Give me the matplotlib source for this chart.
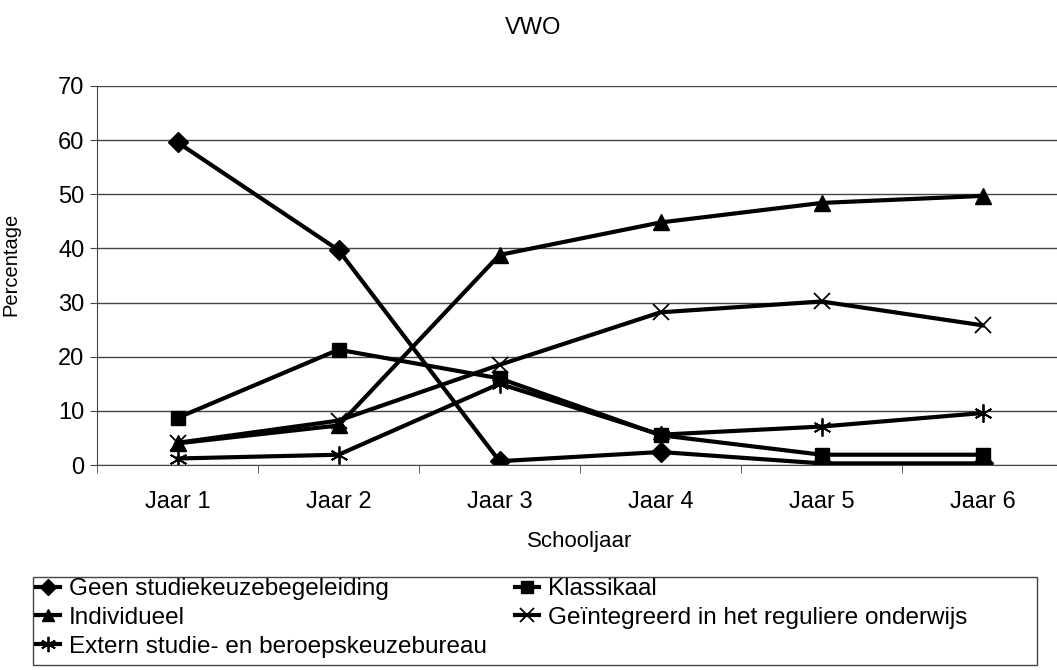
import matplotlib.pyplot as plt
from matplotlib.patches import Rectangle
import numpy as np

# data
jaren = ['Jaar 1', 'Jaar 2', 'Jaar 3', 'Jaar 4', 'Jaar 5', 'Jaar 6']
geen = [59.6, 39.7, 0.7, 2.4, 0.3, 0.3]
klassikaal = [8.7, 21.3, 16.0, 5.5, 1.9, 1.9]
individueel = [4.0, 7.3, 38.8, 44.8, 48.4, 49.7]
geintegreerd = [4.1, 8.2, 18.5, 28.2, 30.2, 25.8]
extern = [1.2, 1.9, 15.0, 5.6, 7.1, 9.6]

plt.rcParams['font.family'] = ['Liberation Sans', 'DejaVu Sans']

W, H = 1057, 670
fig = plt.figure(figsize=(W / 100, H / 100), dpi=100)
# plot area in pixels: left 97, right 1063, top 86, bottom 465
ax = fig.add_axes([97 / W, 1 - 465 / H, (1063 - 97) / W, (465 - 86) / H])

x = np.arange(len(jaren))
lw = 3.0
l_geen, = ax.plot(x, geen, color='black', lw=lw, marker='D', ms=10,
                  label='Geen studiekeuzebegeleiding')
l_klas, = ax.plot(x, klassikaal, color='black', lw=lw, marker='s', ms=10.5,
                  label='Klassikaal')
l_ind, = ax.plot(x, individueel, color='black', lw=lw, marker='^', ms=11,
                 label='Individueel')
l_geint, = ax.plot(x, geintegreerd, color='black', lw=lw, marker='x', ms=12, mew=1.3,
                   label='Geïntegreerd in het reguliere onderwijs')
l_ext, = ax.plot(x, extern, color='black', lw=lw, marker=(6, 2, 0), ms=13, mew=1.3,
                 label='Extern studie- en beroepskeuzebureau')

ax.set_xlim(-0.5, 5.5)
ax.set_ylim(0, 70)
ax.set_yticks(range(0, 71, 10))
ax.set_xticks(x)
ax.set_xticklabels(jaren)
ax.set_xticks(np.arange(-0.5, 6, 1), minor=True)
ax.tick_params(axis='x', which='major', length=0, pad=19, labelsize=17)
ax.tick_params(axis='x', which='minor', length=6, direction='out', color='#444444')
ax.tick_params(axis='y', length=5, direction='out', labelsize=17, pad=4, color='#444444')
ax.yaxis.grid(True, color='#444444', lw=1)
ax.set_axisbelow(True)
for s in ['top', 'right']:
    ax.spines[s].set_visible(False)
for s in ['left', 'bottom']:
    ax.spines[s].set_color('#444444')

ax.set_xlabel('Schooljaar', fontsize=16, labelpad=13)
ax.set_ylabel('Percentage', fontsize=14.5)
ax.yaxis.set_label_coords((20 - 97) / (1063 - 97), 0.53)
fig.text(533 / W, 1 - 28 / H, 'VWO', ha='center', va='center', fontsize=17)

# legend: box plus two columns, filled row by row like the original
fig.patches.append(Rectangle((33 / W, 1 - 665 / H), (1037 - 33) / W, (665 - 577) / H,
                             transform=fig.transFigure, fill=False, edgecolor='#444444', lw=1))
kw = dict(frameon=False, fontsize=17.5, handlelength=1.0, handletextpad=0.35,
          labelspacing=0.28, borderpad=0, borderaxespad=0, loc='upper left',
          markerscale=0.85)
leg1 = fig.legend(handles=[l_geen, l_ind, l_ext], bbox_to_anchor=(36 / W, 1 - 578 / H), **kw)
leg2 = fig.legend(handles=[l_klas, l_geint], bbox_to_anchor=(515 / W, 1 - 578 / H), **kw)

fig.savefig('out.png', dpi=100)
